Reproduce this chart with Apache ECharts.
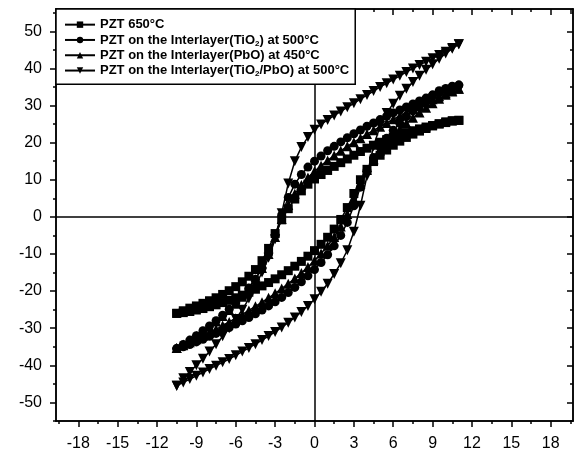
<!DOCTYPE html>
<html>
<head>
<meta charset="utf-8">
<script src="https://cdn.jsdelivr.net/npm/echarts@6.0.0/dist/echarts.min.js"></script>
<style>
  html, body { margin: 0; padding: 0; background: #fff; }
  #loops { width: 577px; height: 453px; }
</style>
</head>
<body>
<div id="loops"></div>
<script>
'use strict';

// electric field, swept down then back up
const fieldDown = [11, 10.5, 10, 9.5, 9, 8.5, 8, 7.5, 7, 6.5, 6, 5.5, 5, 4.5, 4, 3.5, 3, 2.5, 2, 1.5, 1, 0.5, 0,
    -0.5, -1, -1.5, -2, -2.5, -3, -3.5, -4, -4.5, -5, -5.5, -6, -6.5, -7, -7.5, -8, -8.5, -9, -9.5, -10, -10.5];
const fieldUp = [-10.5, -10, -9.5, -9, -8.5, -8, -7.5, -7, -6.5, -6, -5.5, -5, -4.5, -4, -3.5, -3, -2.5, -2, -1.5, -1, -0.5, 0,
    0.5, 1, 1.5, 2, 2.5, 3, 3.5, 4, 4.5, 5, 5.5, 6, 6.5, 7, 7.5, 8, 8.5, 9, 9.5, 10, 10.5, 11];

// polarization, PZT 650°C
const pzt650Down = [26.0, 25.8, 25.4, 25.0, 24.6, 24.2, 23.7, 23.2, 22.7, 22.1, 21.5, 20.8, 20.1, 19.3, 18.5, 17.6, 16.6, 15.6, 14.6, 13.6, 12.5, 11.4, 10.2,
    8.8, 7.0, 4.8, 2.2, -0.8, -4.5, -8.5, -11.8, -14.2, -16.0, -17.5, -18.8, -19.9, -20.9, -21.8, -22.6, -23.3, -24.0, -24.6, -25.3, -26.0];
const pzt650Up = [-26.0, -25.8, -25.5, -25.1, -24.7, -24.2, -23.7, -23.1, -22.5, -21.8, -21.1, -20.3, -19.5, -18.6, -17.7, -16.7, -15.6, -14.5, -13.3, -12.0, -10.6, -9.1,
    -7.4, -5.5, -3.3, -0.7, 2.5, 6.3, 10.0, 12.8, 14.9, 16.6, 18.0, 19.3, 20.4, 21.4, 22.3, 23.1, 23.8, 24.5, 25.1, 25.6, 25.9, 26.0];

// TiO2 interlayer at 500°C
const tio2Down = [35.5, 35.0, 34.3, 33.6, 32.8, 32.0, 31.2, 30.4, 29.6, 28.8, 28.0, 27.1, 26.2, 25.3, 24.4, 23.4, 22.4, 21.3, 20.2, 19.0, 17.8, 16.4, 15.0,
    13.4, 11.4, 8.8, 5.2, 0.5, -5.0, -10.0, -13.8, -16.8, -19.2, -21.3, -23.2, -24.9, -26.5, -28.0, -29.4, -30.7, -32.0, -33.2, -34.4, -35.5];
const tio2Up = [-35.5, -35.0, -34.4, -33.7, -33.0, -32.2, -31.4, -30.6, -29.8, -28.9, -28.0, -27.1, -26.1, -25.1, -24.0, -22.9, -21.7, -20.4, -19.0, -17.5, -15.9, -14.2,
    -12.3, -10.2, -7.8, -5.0, -1.5, 3.0, 8.0, 12.5, 16.0, 18.8, 21.2, 23.3, 25.2, 27.0, 28.6, 30.1, 31.5, 32.8, 34.0, 34.6, 35.2, 35.5];

// PbO interlayer at 450°C
const pboDown = [34.5, 34.0, 33.3, 32.5, 31.7, 30.8, 29.9, 29.0, 28.1, 27.2, 26.3, 25.3, 24.3, 23.3, 22.3, 21.2, 20.1, 19.0, 17.8, 16.5, 15.2, 13.8, 12.3,
    10.6, 8.6, 6.2, 3.2, -0.6, -5.4, -10.0, -13.8, -16.8, -19.3, -21.5, -23.4, -25.1, -26.7, -28.2, -29.6, -30.9, -32.1, -33.3, -34.4, -35.3];
const pboUp = [-35.3, -34.6, -33.8, -33.0, -32.1, -31.2, -30.3, -29.3, -28.3, -27.3, -26.3, -25.2, -24.1, -23.0, -21.8, -20.6, -19.3, -18.0, -16.6, -15.1, -13.5, -11.8,
    -9.9, -7.8, -5.4, -2.6, 0.8, 4.8, 9.0, 12.6, 15.5, 17.9, 20.0, 21.9, 23.6, 25.2, 26.7, 28.1, 29.4, 30.6, 31.8, 32.9, 33.8, 34.5];

// TiO2/PbO interlayer at 500°C
const bothDown = [46.5, 45.5, 44.5, 43.6, 42.7, 41.8, 40.9, 40.0, 39.0, 38.0, 37.0, 36.0, 35.0, 33.9, 32.8, 31.7, 30.6, 29.5, 28.4, 27.3, 26.1, 24.9, 23.5,
    21.5, 18.8, 15.0, 9.0, 1.0, -6.0, -11.0, -15.0, -18.5, -22.0, -25.0, -27.5, -30.0, -32.2, -34.3, -36.3, -38.2, -40.0, -41.8, -43.5, -45.5];
const bothUp = [-45.5, -44.6, -43.7, -42.8, -41.9, -41.0, -40.1, -39.2, -38.3, -37.3, -36.3, -35.3, -34.3, -33.2, -32.1, -31.0, -29.8, -28.5, -27.1, -25.6, -24.0, -22.2,
    -20.2, -18.0, -15.4, -12.5, -9.0, -4.0, 3.0, 11.0, 19.0, 24.5, 28.0, 30.5, 32.6, 34.5, 36.3, 38.0, 39.6, 41.1, 42.6, 44.0, 45.3, 46.5];

const xMajorTicks = [-18, -15, -12, -9, -6, -3, 0, 3, 6, 9, 12, 15, 18];
const xMinorTicks = [-19.5, -16.5, -13.5, -10.5, -7.5, -4.5, -1.5, 1.5, 4.5, 7.5, 10.5, 13.5, 16.5, 19.5];
const yMajorTicks = [-50, -40, -30, -20, -10, 0, 10, 20, 30, 40, 50];
const yMinorTicks = [-55, -45, -35, -25, -15, -5, 5, 15, 25, 35, 45, 55];

const seriesNames = ['PZT 650°C', 'PZT on the Interlayer(TiO2) at 500°C',
    'PZT on the Interlayer(PbO) at 450°C', 'PZT on the Interlayer(TiO2/PbO) at 500°C'];

const FONT = '"Liberation Sans", Arial, sans-serif';

let makeLoop = function(down, up){
    let pts = [];
    fieldDown.forEach(function(e, i){ pts.push([e, down[i]]); });
    fieldUp.forEach(function(e, i){ pts.push([e, up[i]]); });
    return pts;
};

// one axis per tick set, so major/minor and mirrored sides can differ
let tickAxis = function(dim, position, ticks, len, inside, withLabel){
    let isX = dim === 'x';
    return {
        type: 'value',
        position: position,
        min: isX ? -19.7 : -55,
        max: isX ? 19.7 : 56,
        axisLine: {show: true, onZero: false, lineStyle: {color: '#000', width: 1.5}},
        axisTick: {show: true, inside: inside, length: len, customValues: ticks,
            lineStyle: {color: '#000', width: 1.5}},
        axisLabel: withLabel ? {
            show: true, customValues: ticks, margin: isX ? 15 : 14,
            color: '#000', fontSize: 16, fontFamily: FONT
        } : {show: false},
        splitLine: {show: false}
    };
};

let myChart = echarts.init(document.getElementById('loops'));

let symbols = ['rect', 'circle', 'triangle', 'path://M0,0L10,0L5,10Z'];
let symbolSizes = [9, 9, 10, 10];
let loops = [makeLoop(pzt650Down, pzt650Up), makeLoop(tio2Down, tio2Up),
    makeLoop(pboDown, pboUp), makeLoop(bothDown, bothUp)];

let series = loops.map(function(pts, i){
    return {
        name: seriesNames[i],
        type: 'line',
        data: pts,
        symbol: symbols[i],
        symbolSize: symbolSizes[i],
        showAllSymbol: true,
        itemStyle: {color: '#000'},
        lineStyle: {color: '#000', width: 1.5},
        animation: false
    };
});

// zero lines across the frame
series[0].markLine = {
    silent: true,
    symbol: 'none',
    label: {show: false},
    lineStyle: {color: '#000', width: 1.5, type: 'solid'},
    data: [{xAxis: 0}, {yAxis: 0}]
};

let legendLabels = {
    'PZT 650°C': 'PZT 650°C',
    'PZT on the Interlayer(TiO2) at 500°C': 'PZT on the Interlayer(TiO{s|2}) at 500°C',
    'PZT on the Interlayer(PbO) at 450°C': 'PZT on the Interlayer(PbO) at 450°C',
    'PZT on the Interlayer(TiO2/PbO) at 500°C': 'PZT on the Interlayer(TiO{s|2}/PbO) at 500°C'
};

let option = {
    animation: false,
    backgroundColor: '#fff',
    grid: {left: 56, right: 4, top: 9, bottom: 32},
    legend: {
        data: seriesNames,
        z: 30,
        orient: 'vertical',
        left: 56,
        top: 9,
        itemWidth: 30,
        itemHeight: 8,
        itemGap: 0,
        padding: [8, 6, 6, 8],
        borderColor: '#000',
        borderWidth: 1.5,
        borderRadius: 0,
        backgroundColor: '#fff',
        formatter: function(name){ return legendLabels[name]; },
        textStyle: {
            color: '#000', fontSize: 13, fontWeight: 'bold', fontFamily: FONT, lineHeight: 15.3,
            rich: {s: {fontSize: 8, fontWeight: 'bold', fontFamily: FONT, color: '#000',
                lineHeight: 9, verticalAlign: 'bottom'}}
        }
    },
    xAxis: [
        tickAxis('x', 'bottom', xMajorTicks, 6, false, true),
        tickAxis('x', 'bottom', xMinorTicks, 3, false, false),
        tickAxis('x', 'top', xMajorTicks, 6, true, false),
        tickAxis('x', 'top', xMinorTicks, 3, true, false)
    ],
    yAxis: [
        tickAxis('y', 'left', yMajorTicks, 6, false, true),
        tickAxis('y', 'left', yMinorTicks, 3, false, false),
        tickAxis('y', 'right', yMajorTicks, 6, true, false),
        tickAxis('y', 'right', yMinorTicks, 3, true, false)
    ],
    series: series
};

myChart.setOption(option);
</script>
</body>
</html>
